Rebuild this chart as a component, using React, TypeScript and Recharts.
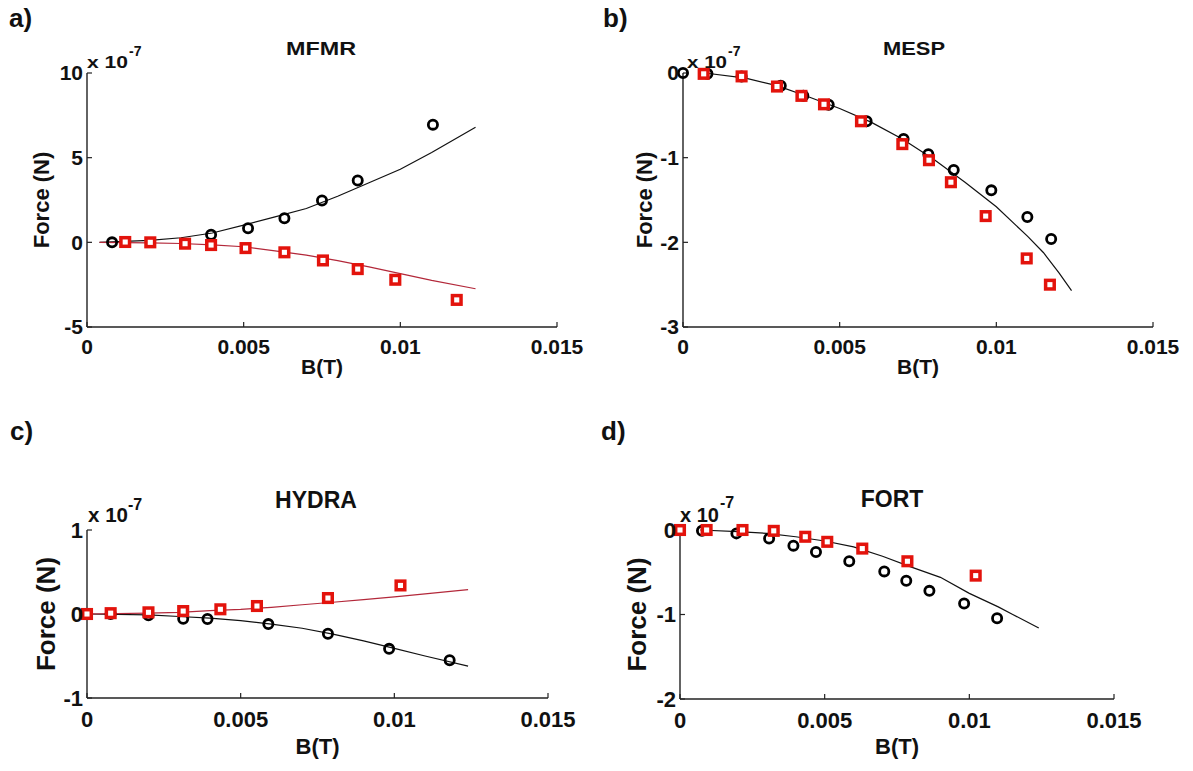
import React from 'react';
import { ScatterChart, Scatter, XAxis, YAxis } from 'recharts';

type Pt = [number, number];

const PAGE_W = 1193;
const PAGE_H = 771;
const FONT = '"Liberation Sans", Arial, sans-serif';

const bTicks = [0, 0.005, 0.01, 0.015];

// a) MFMR
const mfmrTicks = [-5, 0, 5, 10];
const mfmrBlack: Pt[] = [[0.0008, 0], [0.00396, 0.45], [0.00514, 0.83], [0.0063, 1.42], [0.0075, 2.47], [0.00864, 3.65], [0.01104, 6.95]];
const mfmrRed: Pt[] = [[0.00122, 0.02], [0.00202, 0], [0.00313, -0.08], [0.00396, -0.16], [0.00506, -0.34], [0.0063, -0.59], [0.00753, -1.07], [0.00864, -1.58], [0.00984, -2.21], [0.0118, -3.4]];
const mfmrBlackFit: Pt[] = [[0.0004, 0], [0.002, 0.12], [0.003, 0.27], [0.004, 0.55], [0.005, 1.02], [0.006, 1.5], [0.007, 2.0], [0.008, 2.72], [0.009, 3.52], [0.01, 4.32], [0.011, 5.3], [0.0124, 6.8]];
const mfmrRedFit: Pt[] = [[0.0004, 0], [0.002, -0.03], [0.003, -0.07], [0.004, -0.15], [0.005, -0.26], [0.006, -0.5], [0.007, -0.76], [0.008, -1.08], [0.009, -1.45], [0.01, -1.85], [0.011, -2.25], [0.0124, -2.74]];

// b) MESP
const mespTicks = [-3, -2, -1, 0];
const mespBlack: Pt[] = [[0, 0], [0.00078, -0.01], [0.00187, -0.04], [0.00312, -0.15], [0.00384, -0.27], [0.00465, -0.375], [0.00586, -0.57], [0.00704, -0.78], [0.00783, -0.96], [0.00864, -1.145], [0.00984, -1.386], [0.01099, -1.7], [0.01175, -1.96]];
const mespRed: Pt[] = [[0.00066, -0.01], [0.00187, -0.04], [0.003, -0.16], [0.00378, -0.27], [0.0045, -0.37], [0.00568, -0.57], [0.007, -0.84], [0.00785, -1.03], [0.00855, -1.29], [0.00966, -1.69], [0.01097, -2.19], [0.01171, -2.5]];
const mespFit: Pt[] = [[0.0007, 0], [0.002, -0.06], [0.003, -0.15], [0.004, -0.28], [0.005, -0.42], [0.006, -0.58], [0.007, -0.78], [0.008, -1.02], [0.009, -1.29], [0.01, -1.58], [0.011, -1.93], [0.0115, -2.12], [0.012, -2.36], [0.0124, -2.57]];

// c) HYDRA
const hydraTicks = [-1, 0, 1];
const hydraBlack: Pt[] = [[0, 0], [0.00077, 0], [0.002, -0.016], [0.00313, -0.056], [0.00392, -0.06], [0.0059, -0.12], [0.00784, -0.235], [0.00983, -0.415], [0.0118, -0.55]];
const hydraRed: Pt[] = [[0, 0], [0.00077, 0.01], [0.002, 0.02], [0.00313, 0.035], [0.00434, 0.056], [0.00553, 0.095], [0.00784, 0.19], [0.0102, 0.34]];
const hydraBlackFit: Pt[] = [[0, 0], [0.002, -0.01], [0.003, -0.03], [0.004, -0.05], [0.005, -0.08], [0.006, -0.12], [0.007, -0.17], [0.008, -0.24], [0.009, -0.32], [0.01, -0.41], [0.011, -0.5], [0.0124, -0.62]];
const hydraRedFit: Pt[] = [[0, 0], [0.002, 0.01], [0.003, 0.02], [0.004, 0.04], [0.005, 0.055], [0.006, 0.08], [0.007, 0.11], [0.008, 0.14], [0.009, 0.17], [0.01, 0.205], [0.011, 0.24], [0.0124, 0.29]];

// d) FORT
const fortTicks = [-2, -1, 0];
const fortBlack: Pt[] = [[0, 0], [0.00076, -0.01], [0.00195, -0.04], [0.00308, -0.1], [0.00392, -0.185], [0.0047, -0.26], [0.00585, -0.37], [0.00706, -0.49], [0.00782, -0.6], [0.00862, -0.72], [0.00982, -0.87], [0.01096, -1.045]];
const fortRed: Pt[] = [[0, 0], [0.00092, 0], [0.00216, 0], [0.00324, -0.01], [0.00433, -0.08], [0.00509, -0.14], [0.0063, -0.22], [0.00786, -0.37], [0.01022, -0.54]];
const fortFit: Pt[] = [[0.0007, 0], [0.002, -0.02], [0.003, -0.04], [0.004, -0.08], [0.005, -0.13], [0.006, -0.2], [0.007, -0.31], [0.008, -0.44], [0.009, -0.56], [0.01, -0.75], [0.011, -0.91], [0.0115, -1.0], [0.0124, -1.16]];

const toXY = (pts: Pt[]) => pts.map(([x, y]) => ({ x, y }));

const circleShape = (p: any) => (
  <circle cx={p.cx} cy={p.cy} r={4.6} fill="none" stroke="#000" strokeWidth={2.8} />
);
const squareShape = (p: any) => (
  <rect x={p.cx - 4.3} y={p.cy - 4.3} width={8.6} height={8.6} fill="#fff" stroke="#e3130c" strokeWidth={3.5} />
);
const noShape = () => <g />;

interface PanelProps {
  plot: { x: number; y: number; w: number; h: number };
  yDomain: [number, number];
  yTicks: number[];
  black: Pt[];
  red: Pt[];
  blackFit: Pt[];
  redFit?: Pt[];
  tickFont: number;
  xTickMargin: number;
  xLabelTop: number;
  xLabelFont: number;
  yLabelX: number;
  yLabelFont: number;
}

function Panel(p: PanelProps) {
  const yAxisW = 60;
  const xAxisH = 30;
  const margin = {
    left: p.plot.x - yAxisW,
    top: p.plot.y,
    right: PAGE_W - p.plot.x - p.plot.w,
    bottom: PAGE_H - p.plot.y - p.plot.h - xAxisH,
  };
  const tick = { fontSize: p.tickFont, fontWeight: 700, fill: '#111', fontFamily: FONT };
  const axisLine = { stroke: '#222', strokeWidth: 1.4 };
  const cx = p.plot.x + p.plot.w / 2;
  const cy = p.plot.y + p.plot.h / 2;

  return (
    <div style={{ position: 'absolute', left: 0, top: 0 }}>
      <ScatterChart width={PAGE_W} height={PAGE_H} margin={margin}>
        <XAxis
          type="number"
          dataKey="x"
          domain={[0, 0.015]}
          ticks={bTicks}
          interval={0}
          height={xAxisH}
          tick={tick}
          tickSize={-5}
          tickMargin={p.xTickMargin}
          axisLine={axisLine}
          tickLine={{ stroke: '#222', strokeWidth: 1.2 }}
          label={() => (
            <text
              x={cx}
              y={p.plot.y + p.plot.h + p.xLabelTop}
              textAnchor="middle"
              fontSize={p.xLabelFont}
              fontWeight={700}
              fontFamily={FONT}
              fill="#111"
            >
              B(T)
            </text>
          )}
        />
        <YAxis
          type="number"
          dataKey="y"
          domain={p.yDomain}
          ticks={p.yTicks}
          interval={0}
          width={yAxisW}
          tick={tick}
          tickSize={-5}
          tickMargin={9}
          axisLine={axisLine}
          tickLine={{ stroke: '#222', strokeWidth: 1.2 }}
          label={() => (
            <text
              x={p.yLabelX}
              y={cy}
              transform={`rotate(-90 ${p.yLabelX} ${cy})`}
              textAnchor="middle"
              dominantBaseline="central"
              fontSize={p.yLabelFont}
              fontWeight={700}
              fontFamily={FONT}
              fill="#111"
            >
              Force (N)
            </text>
          )}
        />
        <Scatter data={toXY(p.blackFit)} line={{ stroke: '#111', strokeWidth: 1.2 }} shape={noShape} isAnimationActive={false} />
        {p.redFit && (
          <Scatter data={toXY(p.redFit)} line={{ stroke: '#b3283a', strokeWidth: 1.2 }} shape={noShape} isAnimationActive={false} />
        )}
        <Scatter data={toXY(p.black)} shape={circleShape} isAnimationActive={false} />
        <Scatter data={toXY(p.red)} shape={squareShape} isAnimationActive={false} />
      </ScatterChart>
    </div>
  );
}

function Annotations() {
  const t = { fontFamily: FONT, fontWeight: 700, fill: '#111' } as const;
  return (
    <svg width={PAGE_W} height={PAGE_H} style={{ position: 'absolute', left: 0, top: 0 }}>
      <text x={9} y={27} fontSize={26} {...t}>a)</text>
      <text x={603} y={27} fontSize={26} {...t}>b)</text>
      <text x={10} y={440} fontSize={26} {...t}>c)</text>
      <text x={601} y={440} fontSize={26} {...t}>d)</text>

      <text x={286} y={55} fontSize={19} textLength={70} lengthAdjust="spacingAndGlyphs" {...t}>MFMR</text>
      <text x={883} y={55} fontSize={19} textLength={62} lengthAdjust="spacingAndGlyphs" {...t}>MESP</text>
      <text x={316} y={508} fontSize={23} textAnchor="middle" {...t}>HYDRA</text>
      <text x={892} y={507} fontSize={23} textAnchor="middle" {...t}>FORT</text>

      <text x={87} y={68} fontSize={16} textLength={41} lengthAdjust="spacingAndGlyphs" {...t}>x 10</text>
      <text x={129} y={56} fontSize={14} {...t}>-7</text>
      <text x={687} y={68} fontSize={16} textLength={40} lengthAdjust="spacingAndGlyphs" {...t}>x 10</text>
      <text x={728} y={56} fontSize={14} {...t}>-7</text>
      <text x={88} y={522} fontSize={20} textLength={40} lengthAdjust="spacingAndGlyphs" {...t}>x 10</text>
      <text x={128} y={510} fontSize={16} {...t}>-7</text>
      <text x={680} y={522} fontSize={20} textLength={39} lengthAdjust="spacingAndGlyphs" {...t}>x 10</text>
      <text x={720} y={508} fontSize={16} {...t}>-7</text>
    </svg>
  );
}

export default function App() {
  return (
    <div style={{ position: 'absolute', left: 0, top: 0, width: PAGE_W, height: PAGE_H, background: '#fff' }}>
      <Panel
        plot={{ x: 87, y: 73, w: 470, h: 254 }}
        yDomain={[-5, 10]}
        yTicks={mfmrTicks}
        black={mfmrBlack}
        red={mfmrRed}
        blackFit={mfmrBlackFit}
        redFit={mfmrRedFit}
        tickFont={21}
        xTickMargin={17}
        xLabelTop={47}
        xLabelFont={21}
        yLabelX={41}
        yLabelFont={22}
      />
      <Panel
        plot={{ x: 683, y: 73, w: 470, h: 254 }}
        yDomain={[-3, 0]}
        yTicks={mespTicks}
        black={mespBlack}
        red={mespRed}
        blackFit={mespFit}
        tickFont={21}
        xTickMargin={17}
        xLabelTop={47}
        xLabelFont={21}
        yLabelX={644}
        yLabelFont={22}
      />
      <Panel
        plot={{ x: 87, y: 530, w: 461, h: 168 }}
        yDomain={[-1, 1]}
        yTicks={hydraTicks}
        black={hydraBlack}
        red={hydraRed}
        blackFit={hydraBlackFit}
        redFit={hydraRedFit}
        tickFont={22}
        xTickMargin={18}
        xLabelTop={56}
        xLabelFont={22}
        yLabelX={46}
        yLabelFont={26}
      />
      <Panel
        plot={{ x: 680, y: 530, w: 434, h: 169 }}
        yDomain={[-2, 0]}
        yTicks={fortTicks}
        black={fortBlack}
        red={fortRed}
        blackFit={fortFit}
        tickFont={22}
        xTickMargin={18}
        xLabelTop={55}
        xLabelFont={22}
        yLabelX={637}
        yLabelFont={26}
      />
      <Annotations />
    </div>
  );
}
